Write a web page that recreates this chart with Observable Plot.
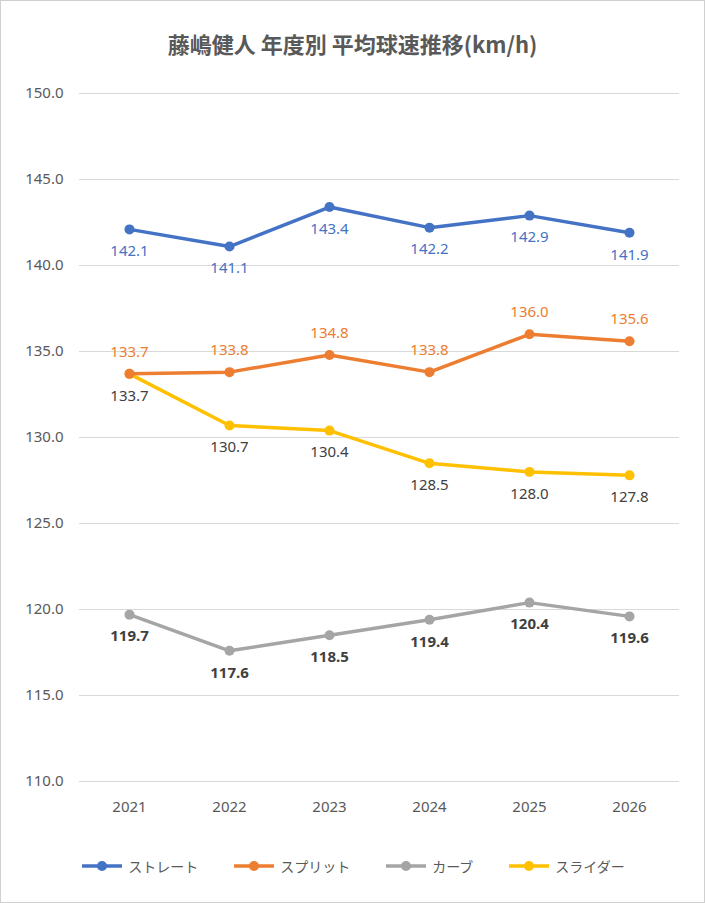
<!DOCTYPE html>
<html><head><meta charset="utf-8">
<script src="https://cdn.jsdelivr.net/npm/d3@7"></script>
<script src="https://cdn.jsdelivr.net/npm/@observablehq/plot@0.6"></script>
<style>
body{margin:0;background:#fff;font-family:"Noto Sans CJK JP","Noto Sans",sans-serif}
#wrap{width:703px;height:901px;border:1px solid #d0d0d0;position:relative;background:#fff}
#title{position:absolute;top:26px;left:0;width:703px;text-align:center;font-size:22px;color:#595959;font-weight:bold}
#chart{position:absolute;top:69px;left:0}
#legend{position:absolute;top:855px;left:0;width:703px;display:flex;justify-content:center;gap:34px;font-size:14px;color:#595959}
.li{display:flex;align-items:center;gap:4px}
</style></head><body>
<div id="wrap"><div id="title">藤嶋健人 年度別 平均球速推移(km/h)</div><div id="chart"></div><div id="legend"></div></div>
<script>
const years=["2021","2022","2023","2024","2025","2026"];
const seriesNames=["ストレート","スプリット","カーブ","スライダー"];
const colors=["#4472C4","#ED7D31","#A5A5A5","#FFC000"];
const straight=[142.1,141.1,143.4,142.2,142.9,141.9];
const split=[133.7,133.8,134.8,133.8,136.0,135.6];
const curve=[119.7,117.6,118.5,119.4,120.4,119.6];
const slider=[133.7,130.7,130.4,128.5,128.0,127.8];
const yTicks=[110,115,120,125,130,135,140,145,150];
const vals=[straight,split,curve,slider];
const labelDy=[22,-22,22,22];
const labelColor=["#4472C4","#ED7D31","#404040","#404040"];
const labelWeight=["normal","normal","bold","normal"];
const data=[];
vals.forEach((arr,i)=>arr.forEach((v,j)=>data.push({s:seriesNames[i],i,year:years[j],v})));
const marks=[Plot.ruleY(yTicks,{stroke:"#d9d9d9"})];
[0,3,2,1].forEach(i=>{
  const d=data.filter(e=>e.i===i);
  marks.push(Plot.line(d,{x:"year",y:"v",stroke:colors[i],strokeWidth:3.5}));
  marks.push(Plot.dot(d,{x:"year",y:"v",fill:colors[i],r:5}));
});
[0,1,2,3].forEach(i=>{
  const d=data.filter(e=>e.i===i);
  marks.push(Plot.text(d,{x:"year",y:"v",text:e=>e.v.toFixed(1),dy:labelDy[i],fill:labelColor[i],fontSize:15,fontWeight:labelWeight[i]}));
});
const chart=Plot.plot({
  width:703,height:770,marginLeft:78,marginRight:25,marginTop:23,marginBottom:59,
  style:{fontFamily:"'Noto Sans','Noto Sans CJK JP',sans-serif",fontSize:"15px",color:"#595959"},
  x:{type:"point",domain:years,padding:0.5,label:null,tickSize:0,tickPadding:20},
  y:{domain:[110,150],ticks:yTicks,tickFormat:d=>d.toFixed(1),label:null,tickSize:0,tickPadding:16},
  marks
});
document.getElementById("chart").appendChild(chart);
const lg=document.getElementById("legend");
seriesNames.forEach((n,i)=>{
  lg.insertAdjacentHTML("beforeend",`<div class="li"><svg width="44" height="12"><line x1="2" x2="42" y1="6" y2="6" stroke="${colors[i]}" stroke-width="3.5"/><circle cx="22" cy="6" r="5" fill="${colors[i]}"/></svg><span>${n}</span></div>`);
});
</script></body></html>
